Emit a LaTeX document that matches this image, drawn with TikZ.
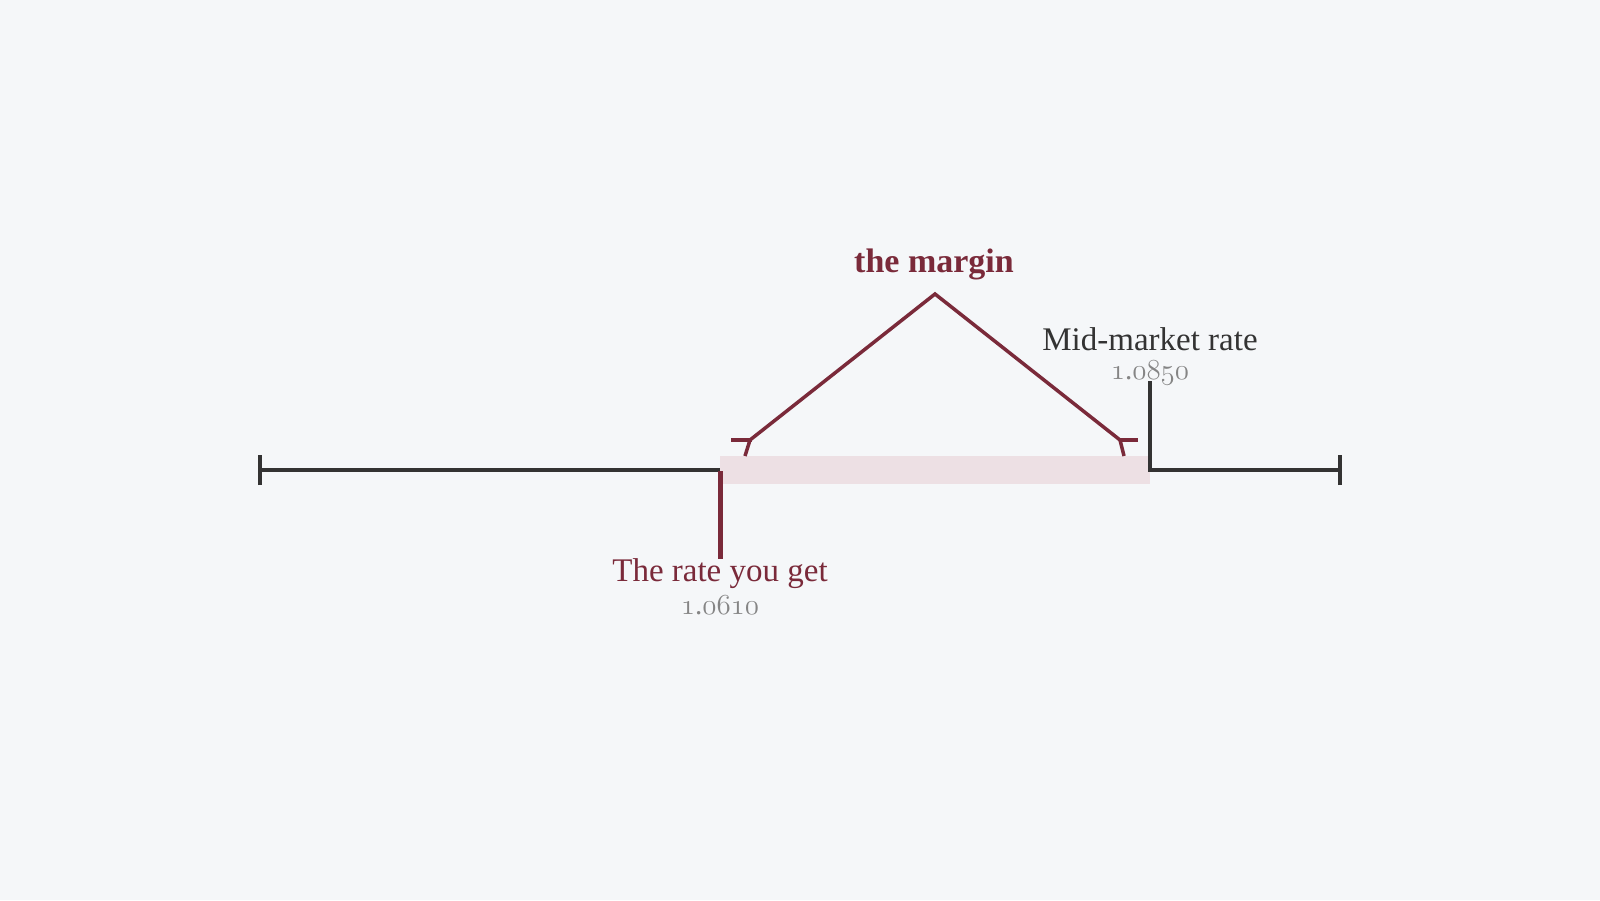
\documentclass[tikz,border=0pt]{standalone}
\usepackage{fontspec}
\setmainfont{Liberation Serif}
\DeclareFontFamily{OML}{xosf}{\skewchar\font=127}
\DeclareFontShape{OML}{xosf}{m}{it}{<-> cmmi12}{}
\newcommand\osfd[1]{{\fontencoding{OML}\fontfamily{xosf}\fontseries{m}\fontshape{it}\selectfont #1}}
\definecolor{bg}{HTML}{F5F7F9}
\definecolor{wine}{HTML}{7A2A3A}
\definecolor{ink}{HTML}{333333}
\definecolor{numgray}{HTML}{858585}
\definecolor{bandpink}{HTML}{EDE0E4}
\begin{document}
\begin{tikzpicture}[x=1pt,y=-1pt,
  axisline/.style={draw=ink,line width=4.5pt},
  redtick/.style={draw=wine,line width=5pt},
  bracketline/.style={draw=wine,line width=3.5pt},
  lbl/.style={anchor=base,inner sep=0pt,font=\fontsize{33}{36}\selectfont},
  numlbl/.style={anchor=base,inner sep=0pt,text=numgray,font=\fontsize{29}{31}\selectfont},
  titlelbl/.style={anchor=base,inner sep=0pt,text=wine,font=\fontsize{34}{36}\selectfont\bfseries}]
\fill[bg] (0,0) rectangle (1600,900);
\useasboundingbox (0,0) rectangle (1600,900);
% band
\fill[bandpink] (720,456) rectangle (1150,484);
% coordinates
\coordinate (L) at (260,470);
\coordinate (got) at (720,470);
\coordinate (gotlow) at (720,559);
\coordinate (midtop) at (1150,381);
\coordinate (mid) at (1150,470);
\coordinate (R) at (1340,470);
\coordinate (apex) at (935,294);
\coordinate (lj) at (750,440);
\coordinate (ls1) at (731,440);
\coordinate (ls2) at (752,440);
\coordinate (lleg) at (745,456);
\coordinate (rj) at (1120,440);
\coordinate (rs2) at (1138,440);
\coordinate (rleg) at (1124,456);
% axis
\draw[axisline] (L) -- (got);
\draw[axisline,miter limit=10] (midtop) -- (mid) -- (R);
\draw[axisline] ([yshift=-15]L) -- ([yshift=15]L);
\draw[axisline] ([yshift=-15]R) -- ([yshift=15]R);
\draw[redtick] ([yshift=-1]got) -- (gotlow);
% margin bracket
\draw[bracketline] (lj) -- (apex) -- (rj);
\draw[bracketline] (ls1) -- (ls2);
\draw[bracketline] (lj) -- (lleg);
\draw[bracketline] (rj) -- (rs2);
\draw[bracketline] (rj) -- (rleg);
% labels
\node[titlelbl] (margin) at (934,272) {the margin};
\node[lbl,text=ink] (midlbl) at (1150,350) {Mid-market rate};
\node[numlbl] (midnum) at (1150,379) {\osfd{1}.\osfd{0850}};
\node[lbl,text=wine] (gotlbl) at (720,581) {The rate you get};
\node[numlbl] (gotnum) at (720,614) {\osfd{1}.\osfd{0610}};
\end{tikzpicture}
\end{document}
